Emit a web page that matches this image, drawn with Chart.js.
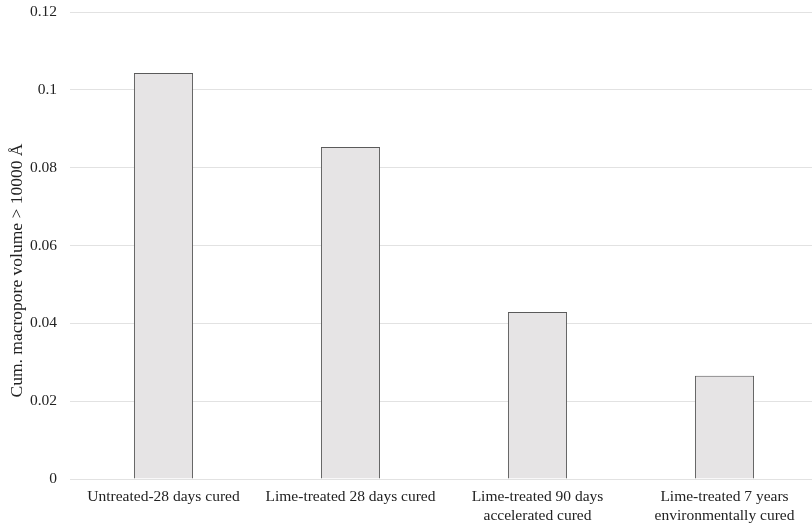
<!DOCTYPE html>
<html>
<head>
<meta charset="utf-8">
<script src="https://cdn.jsdelivr.net/npm/chart.js@4/dist/chart.umd.min.js"></script>
<style>
  html, body { margin: 0; padding: 0; background: #fff; overflow: hidden; }
  #wrap { width: 818px; height: 526px; }
</style>
</head>
<body>
<div id="wrap"><canvas id="chart"></canvas></div>
<script>
// categories and values
const categories = [
    'Untreated-28 days cured',
    'Lime-treated 28 days cured',
    ['Lime-treated 90 days', 'accelerated cured'],
    ['Lime-treated 7 years', 'environmentally cured']
];
const macroporeVolume = [0.1043, 0.0853, 0.0429, 0.0265];
const yTicks = [0, 0.02, 0.04, 0.06, 0.08, 0.1, 0.12];
const yTitle = 'Cum. macropore volume > 10000 Å';

const serif = '"Liberation Serif", "Times New Roman", serif';

// the axis title sits a bit lower than the middle of the axis in the original
const yTitlePlugin = {
    id: 'yTitle',
    afterDraw(chart) {
        const ctx = chart.ctx;
        const area = chart.chartArea;
        ctx.save();
        ctx.translate(17, area.top + (area.bottom - area.top) / 2 + 25);
        ctx.rotate(-Math.PI / 2);
        ctx.font = '17.5px ' + serif;
        ctx.fillStyle = '#222';
        ctx.textAlign = 'center';
        ctx.textBaseline = 'middle';
        ctx.fillText(yTitle, 0, 0);
        ctx.restore();
    }
};

new Chart(document.getElementById('chart'), {
    type: 'bar',
    data: {
        labels: categories,
        datasets: [{
            data: macroporeVolume,
            backgroundColor: '#e6e4e5',
            borderColor: '#5a5a5a',
            borderWidth: 1,
            barPercentage: 0.632,
            categoryPercentage: 0.5
        }]
    },
    options: {
        responsive: true,
        maintainAspectRatio: false,
        animation: false,
        layout: { padding: { top: 12, left: 0, right: 0, bottom: 0 } },
        plugins: {
            legend: { display: false },
            tooltip: { enabled: false }
        },
        scales: {
            x: {
                grid: { display: false, drawTicks: false },
                border: { display: false },
                ticks: {
                    color: '#222',
                    font: { family: serif, size: 15.5 },
                    padding: 9,
                    maxRotation: 0,
                    autoSkip: false
                },
                afterFit: (axis) => {
                    axis.height = 47;
                    axis.paddingLeft = 0;
                    axis.paddingRight = 0;
                }
            },
            y: {
                min: 0,
                max: 0.12,
                afterBuildTicks: (axis) => { axis.ticks = yTicks.map(v => ({ value: v })); },
                grid: { color: '#e2e2e2', lineWidth: 1, drawTicks: false },
                border: { display: false },
                ticks: {
                    color: '#222',
                    font: { family: serif, size: 15.5 },
                    padding: 13,
                    callback: (v) => String(Math.round(v * 100) / 100)
                },
                afterFit: (axis) => {
                    axis.width = 70;
                    axis.paddingTop = 0;
                    axis.paddingBottom = 0;
                }
            }
        }
    },
    plugins: [yTitlePlugin]
});
</script>
</body>
</html>
